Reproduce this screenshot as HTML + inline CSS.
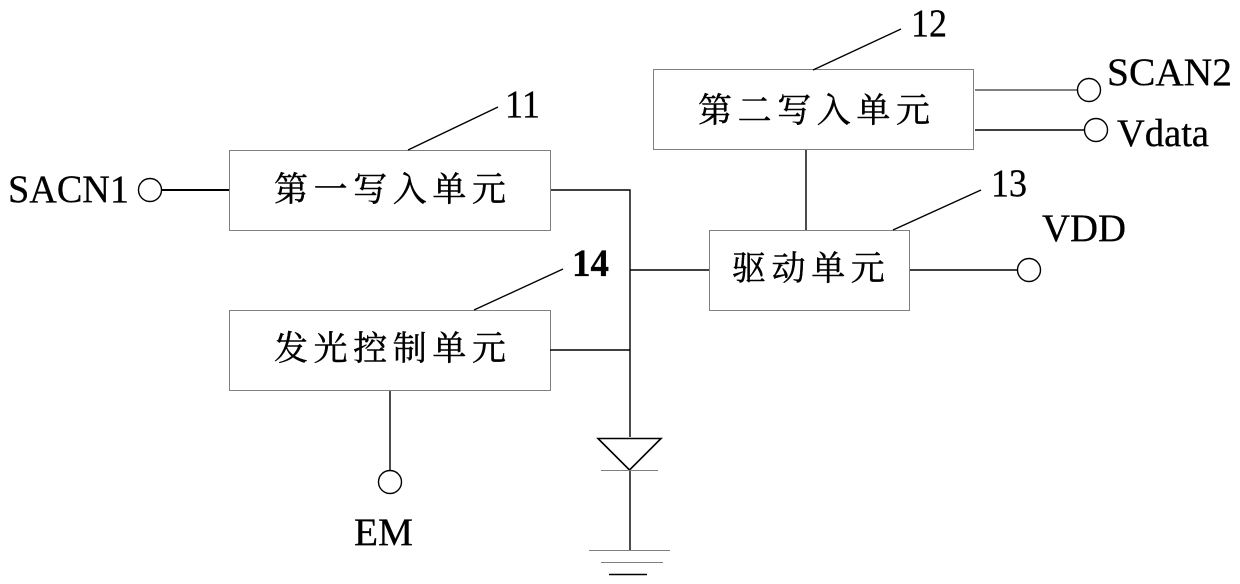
<!DOCTYPE html>
<html>
<head>
<meta charset="utf-8">
<style>
html,body{margin:0;padding:0;background:#fff;}
svg{display:block;}
.l{font-family:"Liberation Serif",serif;font-size:39px;fill:#000;stroke:#000;stroke-width:.3px;}
.c{font-family:"Liberation Serif","Noto Serif CJK SC",serif;font-size:34px;fill:#000;stroke:#000;stroke-width:.45px;}
.n{font-family:"Liberation Serif",serif;font-size:39px;fill:#000;stroke:#000;stroke-width:.3px;}
</style>
</head>
<body>
<svg width="1240" height="584" viewBox="0 0 1240 584" xmlns="http://www.w3.org/2000/svg">
<rect width="1240" height="584" fill="#fff"/>
<g fill="#fff" stroke="#808080" stroke-width="1">
<rect x="229.5" y="150.5" width="321" height="80"/>
<rect x="229.5" y="310.5" width="321" height="80"/>
<rect x="653.5" y="69.5" width="320" height="80"/>
<rect x="709.5" y="230.5" width="200" height="80"/>
</g>
<g fill="none" stroke="#000" stroke-width="1.4">
<path d="M161 190H229" stroke-width="2"/>
<path d="M551 190H630V437"/>
<path d="M630 270H709"/>
<path d="M550 350H630"/>
<path d="M806 150V230"/>
<path d="M910 270H1017"/>
<path d="M975 90H1077" stroke="#555"/>
<path d="M975 130H1084"/>
<path d="M390 391V471"/>
<path d="M630 470V550"/>
<path d="M408 150L498 107"/>
<path d="M474 310L563 269"/>
<path d="M813 70L901 29"/>
<path d="M893 230L981 190"/>
<path d="M598 438.500H661L629.500 470Z" stroke-width="1.600"/>
<circle cx="150" cy="190" r="11.500" fill="#fff"/>
<circle cx="1089" cy="90" r="11.500" fill="#fff"/>
<circle cx="1096" cy="130" r="11.500" fill="#fff"/>
<circle cx="1029" cy="270" r="11.500" fill="#fff"/>
<circle cx="390" cy="482" r="11.500" fill="#fff"/>
</g>
<g stroke-width="1">
<path d="M601 470.500H658" stroke="#808080"/>
<path d="M589 550.500H670" stroke="#808080"/>
<path d="M601 562.500H663" stroke="#808080"/>
<path d="M609 574.500H647" stroke="#000" stroke-width="1.500"/>
</g>
<text class="l" x="8" y="202" textLength="121" lengthAdjust="spacingAndGlyphs">SACN1</text>
<text class="l" x="1107" y="85" textLength="125" lengthAdjust="spacingAndGlyphs">SCAN2</text>
<text class="l" x="1117" y="146" textLength="92" lengthAdjust="spacingAndGlyphs">Vdata</text>
<text class="l" x="1042" y="241" textLength="84" lengthAdjust="spacingAndGlyphs">VDD</text>
<text class="l" x="354" y="545" textLength="59" lengthAdjust="spacingAndGlyphs">EM</text>
<text class="n" x="505" y="117" textLength="35" lengthAdjust="spacingAndGlyphs">11</text>
<text class="n" x="911" y="36" textLength="36" lengthAdjust="spacingAndGlyphs">12</text>
<text class="n" x="991" y="196" textLength="36" lengthAdjust="spacingAndGlyphs">13</text>
<text class="n" x="572" y="276" font-weight="bold" textLength="37" lengthAdjust="spacingAndGlyphs">14</text>
<text class="c" x="274" y="201" letter-spacing="5.600">第一写入单元</text>
<text class="c" x="274" y="360" letter-spacing="5.600">发光控制单元</text>
<text class="c" x="698" y="122" letter-spacing="5.600">第二写入单元</text>
<text class="c" x="732" y="280" letter-spacing="5.600">驱动单元</text>
</svg>
</body>
</html>
